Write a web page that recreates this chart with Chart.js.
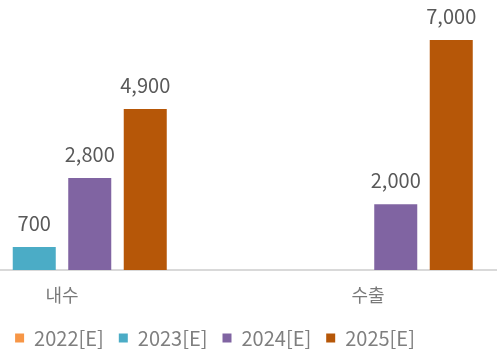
<!DOCTYPE html>
<html>
<head>
<meta charset="utf-8">
<script src="https://cdn.jsdelivr.net/npm/chart.js@4/dist/chart.umd.min.js"></script>
<style>
  html, body { margin: 0; padding: 0; background: #fff; }
  #frame { position: relative; width: 497px; height: 354px; overflow: hidden; }
  #wrap { position: absolute; left: -91px; top: 0; width: 612px; height: 360px; }
</style>
</head>
<body>
<div id="frame"><div id="wrap"><canvas id="c"></canvas></div></div>
<script>
const categories = ['내수', '수출'];
const seriesNames = ['2022[E]', '2023[E]', '2024[E]', '2025[E]'];
const values2022 = [null, null];
const values2023 = [700, null];
const values2024 = [2800, 2000];
const values2025 = [4900, 7000];
const seriesColors = ['#F79646', '#4BACC6', '#8064A2', '#B65708'];

const FONT = "'Noto Sans CJK KR', 'Noto Sans', sans-serif";

// Writes each bar's value above it
const valueLabels = {
  id: 'valueLabels',
  afterDatasetsDraw(chart) {
    const ctx = chart.ctx;
    ctx.save();
    ctx.font = '20px ' + FONT;
    ctx.fillStyle = '#595959';
    ctx.textAlign = 'center';
    ctx.textBaseline = 'alphabetic';
    chart.data.datasets.forEach((ds, i) => {
      const meta = chart.getDatasetMeta(i);
      meta.data.forEach((bar, j) => {
        const v = ds.data[j];
        if (v === null || v === undefined) return;
        ctx.fillText(v.toLocaleString('en-US'), bar.x, bar.y - 16);
      });
    });
    ctx.restore();
  }
};

const allSeries = [values2022, values2023, values2024, values2025];

new Chart(document.getElementById('c'), {
  type: 'bar',
  data: {
    labels: categories,
    datasets: allSeries.map((vals, i) => ({
      label: seriesNames[i],
      data: vals,
      backgroundColor: seriesColors[i],
      borderWidth: 0,
      categoryPercentage: 0.7255,
      barPercentage: 0.775
    }))
  },
  options: {
    responsive: true,
    maintainAspectRatio: false,
    animation: false,
    layout: { padding: { top: 7, bottom: 2, left: 0, right: 0 } },
    scales: {
      x: {
        grid: { display: false },
        border: { display: true, color: '#d9d9d9', width: 2 },
        ticks: { color: '#7a7a7a', font: { family: FONT, size: 18 }, padding: 6 },
        afterFit(scale) { scale.height = 53; }
      },
      y: {
        display: false,
        min: 0,
        max: 8000
      }
    },
    plugins: {
      legend: {
        position: 'bottom',
        labels: {
          boxWidth: 9,
          boxHeight: 9,
          padding: 5,
          color: '#7f7f7f',
          font: { family: FONT, size: 20 },
          // wider gaps between entries without extra vertical padding
          generateLabels(chart) {
            const items = Chart.defaults.plugins.legend.labels.generateLabels(chart);
            items.forEach((it, i) => {
              if (i < items.length - 1) it.text = it.text + '\u2002';
            });
            return items;
          }
        }
      },
      tooltip: { enabled: false }
    }
  },
  plugins: [valueLabels]
});
</script>
</body>
</html>
